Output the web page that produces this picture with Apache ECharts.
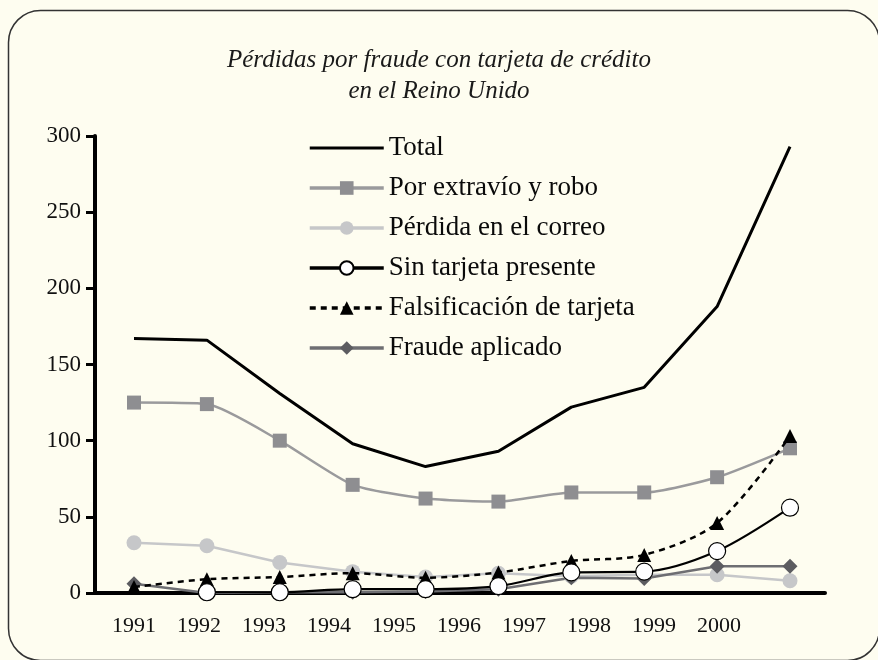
<!DOCTYPE html>
<html>
<head>
<meta charset="utf-8">
<script src="https://cdn.jsdelivr.net/npm/echarts@6/dist/echarts.min.js"></script>
<style>
html,body{margin:0;padding:0;background:#FEFDF0;}
#c{width:878px;height:660px;}
</style>
</head>
<body>
<div id="c"></div>
<script>
var years = ['1991','1992','1993','1994','1995','1996','1997','1998','1999','2000'];
var yTicks = [0, 50, 100, 150, 200, 250, 300];
var names = ['Total','Por extravío y robo','Pérdida en el correo','Sin tarjeta presente','Falsificación de tarjeta','Fraude aplicado'];
var total       = [167, 166, 131, 98, 83, 93, 122, 135, 188, 293];
var extravio    = [125, 124, 100, 71, 62, 60, 66, 66, 76, 95];
var correo      = [33, 31, 20, 14, 10.5, 13, 11, 12, 12, 8];
var sinTarjeta  = [null, 0.5, 0.5, 2.5, 2.5, 4.5, 13.5, 14, 27.5, 56];
var falsif      = [4, 9, 10.5, 13, 10, 13.5, 21, 25, 46, 103];
var aplicado    = [6, 0, 0.5, 0.5, 1, 2.5, 10, 9.5, 17.5, 17.5];

var serif = 'Liberation Serif, Times New Roman, serif';
var chart = echarts.init(document.getElementById('c'), null, {renderer:'canvas'});

function dataSeries(name, data, opt){
  return Object.assign({
    name: name, type: 'line', data: data,
    xAxisIndex: 1, yAxisIndex: 1,
    connectNulls: false
  }, opt);
}

var legendData = names.map(function(n, i){
  return i === 0 ? {name: n, icon: 'path://M0,0L74,0L74,3L0,3Z'} : {name: n};
});

var option = {
  backgroundColor: '#FEFDF0',
  animation: false,
  title: {
    text: 'Pérdidas por fraude con tarjeta de crédito\nen el Reino Unido',
    left: 'center', top: 40,
    textStyle: {fontFamily: serif, fontStyle: 'italic', fontWeight: 'normal', fontSize: 25, color: '#1a1a1a', lineHeight: 31}
  },
  legend: {
    data: legendData,
    orient: 'vertical',
    left: 303, top: 128,
    itemWidth: 74, itemHeight: 17, itemGap: 10,
    symbolKeepAspect: true,
    lineStyle: {width: 3.5},
    textStyle: {fontFamily: serif, fontSize: 27, color: '#0a0a0a', lineHeight: 30}
  },
  graphic: [{
    type: 'rect', silent: true, z: 100,
    shape: {x: 8.5, y: 10.5, width: 871, height: 650, r: 32},
    style: {fill: 'none', stroke: '#333', lineWidth: 1.5}
  }],
  grid: [
    {left: 95, right: 53, top: 136, bottom: 67},
    {left: 134, right: 88, top: 136, bottom: 67},
    {left: 101.5, width: 650, top: 136, bottom: 67}
  ],
  xAxis: [
    {gridIndex: 0, type: 'category', data: years, boundaryGap: false,
     axisLine: {show: true, lineStyle: {color: '#000', width: 4}},
     axisTick: {show: false}, axisLabel: {show: false}, splitLine: {show: false}},
    {gridIndex: 1, type: 'category', data: years, boundaryGap: false, show: false},
    {gridIndex: 2, type: 'category', data: years, boundaryGap: true,
     axisLine: {show: false}, axisTick: {show: false}, splitLine: {show: false},
     axisLabel: {fontFamily: serif, fontSize: 22, color: '#111', margin: 22}}
  ],
  yAxis: [
    {gridIndex: 0, type: 'value', min: yTicks[0], max: yTicks[yTicks.length-1], interval: 50,
     axisLine: {show: true, lineStyle: {color: '#000', width: 4}},
     axisTick: {show: true, length: 9, lineStyle: {color: '#000', width: 3}},
     axisLabel: {fontFamily: serif, fontSize: 23, color: '#111', margin: 14},
     splitLine: {show: false}},
    {gridIndex: 1, type: 'value', min: 0, max: 300, show: false},
    {gridIndex: 2, type: 'value', min: 0, max: 300, show: false}
  ],
  series: [
    dataSeries(names[0], total, {symbol: 'none', z: 2,
      lineStyle: {color: '#000', width: 3}, itemStyle: {color: '#000'}}),
    dataSeries(names[1], extravio, {symbol: 'rect', symbolSize: 14, z: 3, smooth: 0.2,
      lineStyle: {color: '#9a9a9c', width: 2.5}, itemStyle: {color: '#8e8e91'}}),
    dataSeries(names[2], correo, {symbol: 'circle', symbolSize: 15, z: 2,
      lineStyle: {color: '#c6c7c9', width: 2.5}, itemStyle: {color: '#c6c7c9'}}),
    dataSeries(names[3], sinTarjeta, {symbol: 'circle', symbolSize: 17, z: 5, smooth: 0.3,
      lineStyle: {color: '#000', width: 2.2}, itemStyle: {color: '#fff', borderColor: '#000', borderWidth: 1.2}}),
    dataSeries(names[4], falsif, {symbol: 'triangle', symbolSize: 14, z: 4, smooth: 0.3,
      lineStyle: {color: '#000', width: 2.5, type: [6, 5]}, itemStyle: {color: '#000'}}),
    dataSeries(names[5], aplicado, {symbol: 'diamond', symbolSize: 15, z: 2,
      lineStyle: {color: '#6e6e72', width: 2.5}, itemStyle: {color: '#5c5c60'}})
  ]
};
chart.setOption(option);
</script>
</body>
</html>
